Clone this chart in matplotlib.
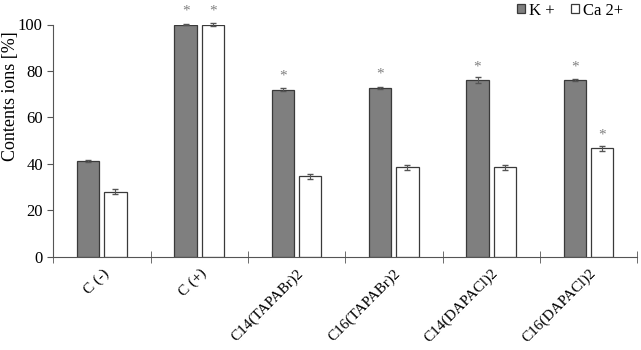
import numpy as np
import matplotlib.pyplot as plt

plt.rcParams['font.family'] = ['Liberation Serif', 'DejaVu Serif']

groups = ['C (-)', 'C (+)', 'C14(TAPABr)2', 'C16(TAPABr)2', 'C14(DAPACl)2', 'C16(DAPACl)2']
k_vals = [41.3, 100.0, 72.0, 72.7, 76.0, 76.0]
k_err = [0.5, 0.3, 0.5, 0.4, 1.3, 0.4]
ca_vals = [28.1, 100.0, 34.6, 38.5, 38.5, 46.7]
ca_err = [1.2, 0.7, 0.9, 1.1, 0.9, 1.2]
k_star = [False, True, True, True, True, True]
ca_star = [False, True, False, False, False, True]

fig = plt.figure(figsize=(6.41, 3.5), dpi=100)
ax = fig.add_axes([0.083, 0.266, 0.911, 0.664])

x = np.arange(len(groups))
w = 0.23
off = 0.14
ax.bar(x - off, k_vals, w, color='#7f7f7f', edgecolor='#3a3a3a', linewidth=0.9, label='K +')
ax.bar(x + off, ca_vals, w, color='white', edgecolor='#3a3a3a', linewidth=0.9, label='Ca 2+')
ax.errorbar(x - off, k_vals, yerr=k_err, fmt='none', ecolor='#555555', elinewidth=0.8, capsize=2.5, clip_on=False)
ax.errorbar(x + off, ca_vals, yerr=ca_err, fmt='none', ecolor='#555555', elinewidth=0.8, capsize=2.5, clip_on=False)

for i in range(len(groups)):
    if k_star[i]:
        ax.text(x[i] - off, k_vals[i] + 4.3, '*', ha='center', va='baseline', color='#808080', fontsize=11, clip_on=False)
    if ca_star[i]:
        ax.text(x[i] + off, ca_vals[i] + 4.3, '*', ha='center', va='baseline', color='#808080', fontsize=11, clip_on=False)

ax.set_xlim(-0.5, len(groups) - 0.5)
ax.set_ylim(0, 100)
ax.set_yticks(np.arange(0, 101, 20))
ax.set_xticks(x)
ax.set_xticklabels(groups, rotation=45, ha='right', rotation_mode='anchor', fontsize=11)
ax.set_xticks(np.arange(-0.5, len(groups), 1), minor=True)
ax.tick_params(axis='x', which='major', length=0, pad=7)
ax.tick_params(axis='x', which='minor', direction='inout', length=8, color='#555555')
ax.tick_params(axis='y', direction='out', length=4, color='#555555', labelsize=12)
ax.set_ylabel('Contents ions [%]', fontsize=13)
ax.yaxis.set_label_coords(-0.058, 0.69)

for s in ['top', 'right']:
    ax.spines[s].set_visible(False)
for s in ['left', 'bottom']:
    ax.spines[s].set_color('#555555')

fig.legend(loc='upper right', bbox_to_anchor=(0.995, 1.035), ncol=2, frameon=False, fontsize=12,
           handlelength=0.45, handleheight=0.45, handletextpad=0.25, columnspacing=1.0)

fig.savefig('out.png', dpi=100)
